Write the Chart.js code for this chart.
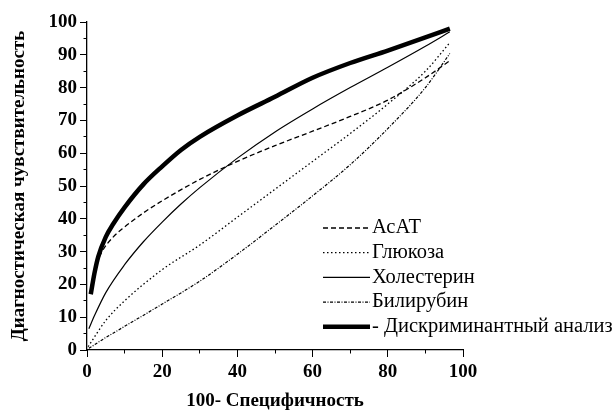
<!DOCTYPE html>
<html>
<head>
<meta charset="utf-8">
<script src="https://cdn.jsdelivr.net/npm/chart.js@4/dist/chart.umd.min.js"></script>
<style>
  html, body { margin: 0; padding: 0; background: #fff; }
</style>
</head>
<body>
<canvas id="roc" width="615" height="412"></canvas>
<script>
// ROC curves
const acatX = [1, 2, 4, 7, 10, 15, 20, 30, 40, 50, 60, 70, 80, 90, 96.5];
const acatY = [19, 24.5, 30, 34.5, 37.5, 41.8, 45.5, 52, 57.5, 62.3, 66.7, 71.2, 76.2, 83, 88.2];

const glucoseX = [0.3, 5, 10, 20, 30, 40, 50, 60, 70, 80, 90, 96.5];
const glucoseY = [1, 9, 15, 24.5, 32, 40.5, 49, 57.5, 66, 75, 85, 93.7];

const cholX = [0.5, 2, 5, 10, 15, 20, 25, 30, 40, 50, 60, 70, 80, 90, 96.5];
const cholY = [6.5, 10.5, 17.5, 26, 33, 39, 44.5, 49.5, 58.5, 66.5, 73.5, 80, 86.2, 92.6, 97];

const biliX = [0.5, 5, 10, 20, 30, 40, 50, 60, 70, 80, 90, 96.5];
const biliY = [0.5, 3.8, 7.2, 14, 21, 29.2, 38, 47, 56.5, 67.5, 80, 90.4];

const discrX = [1, 2, 3, 5, 7, 10, 15, 20, 25, 30, 40, 50, 60, 70, 80, 90, 96.5];
const discrY = [17, 23.5, 28.5, 34.5, 38.5, 43.5, 50.5, 56, 61, 65, 71.5, 77.2, 83, 87.5, 91.3, 95.3, 98];

const seriesLabels = ["АсАТ", "Глюкоза", "Холестерин", "Билирубин", "- Дискриминантный анализ"];

function toPoints(xs, ys) {
  return xs.map((x, i) => ({ x: x, y: ys[i] }));
}

const serif = "'Liberation Serif', 'Times New Roman', serif";

// legend sits inside the plot, bottom right
const innerLegend = {
  id: 'innerLegend',
  afterDraw(chart) {
    const ctx = chart.ctx;
    chart.data.datasets.forEach((ds, i) => {
      const y = 228 + i * 24.7;
      ctx.save();
      ctx.strokeStyle = '#000';
      ctx.lineWidth = ds.borderWidth;
      ctx.setLineDash(ds.borderDash || []);
      ctx.beginPath();
      ctx.moveTo(323, y);
      ctx.lineTo(370, y);
      ctx.stroke();
      ctx.setLineDash([]);
      ctx.fillStyle = '#000';
      ctx.font = "20.5px " + serif;
      ctx.textBaseline = 'middle';
      ctx.fillText(ds.label, 372, y);
      ctx.restore();
    });
  }
};

// short minor ticks: an extra axis with no width and no labels
function minorAxis(axis, position, step) {
  return {
    type: 'linear',
    axis: axis,
    position: position,
    min: 0,
    max: 100,
    weight: -1,
    afterFit: s => { if (axis === 'y') s.width = 0; else s.height = 0; },
    grid: { drawOnChartArea: false, color: '#000', tickLength: 3.5 },
    border: { display: false },
    ticks: { stepSize: step, autoSkip: false, padding: 0, callback: () => '' }
  };
}

const ctx = document.getElementById("roc").getContext("2d");
new Chart(ctx, {
  type: 'line',
  data: {
    datasets: [
      { label: seriesLabels[0], data: toPoints(acatX, acatY), borderColor: '#000', borderWidth: 1.3, borderDash: [5, 3] },
      { label: seriesLabels[1], data: toPoints(glucoseX, glucoseY), borderColor: '#000', borderWidth: 1.3, borderDash: [1.5, 2.5] },
      { label: seriesLabels[2], data: toPoints(cholX, cholY), borderColor: '#000', borderWidth: 1.2 },
      { label: seriesLabels[3], data: toPoints(biliX, biliY), borderColor: '#000', borderWidth: 1.2, borderDash: [3, 1.5, 1, 1.5] },
      { label: seriesLabels[4], data: toPoints(discrX, discrY), borderColor: '#000', borderWidth: 4.5 }
    ]
  },
  options: {
    responsive: false,
    animation: false,
    layout: { padding: { top: 22, right: 152, left: 0, bottom: 0 } },
    elements: {
      point: { radius: 0 },
      line: { cubicInterpolationMode: 'monotone', fill: false }
    },
    plugins: {
      legend: { display: false },
      tooltip: { enabled: false }
    },
    scales: {
      x: {
        type: 'linear',
        min: 0,
        max: 100,
        afterFit: s => { s.height = 62; },
        grid: { drawOnChartArea: false, color: '#000', tickLength: 7 },
        border: { color: '#000', width: 1.3 },
        ticks: {
          stepSize: 20,
          autoSkip: false,
          maxRotation: 0,
          padding: 4,
          color: '#000',
          font: { family: serif, size: 19, weight: 'bold' }
        },
        title: {
          display: true,
          text: '100- Специфичность',
          color: '#000',
          padding: { top: 0, bottom: 0 },
          font: { family: serif, size: 19, weight: 'bold' }
        }
      },
      y: {
        min: 0,
        max: 100,
        afterFit: s => { s.width = 87; },
        grid: { drawOnChartArea: false, color: '#000', tickLength: 7 },
        border: { color: '#000', width: 1.3 },
        ticks: {
          stepSize: 10,
          autoSkip: false,
          padding: 3,
          color: '#000',
          font: { family: serif, size: 19, weight: 'bold' }
        },
        title: {
          display: true,
          text: 'Диагностическая чувствительность',
          color: '#000',
          padding: { top: 8, bottom: 0 },
          font: { family: serif, size: 19, weight: 'bold' }
        }
      },
      xMinor: minorAxis('x', 'bottom', 10),
      yMinor: minorAxis('y', 'left', 5)
    }
  },
  plugins: [innerLegend]
});
</script>
</body>
</html>
